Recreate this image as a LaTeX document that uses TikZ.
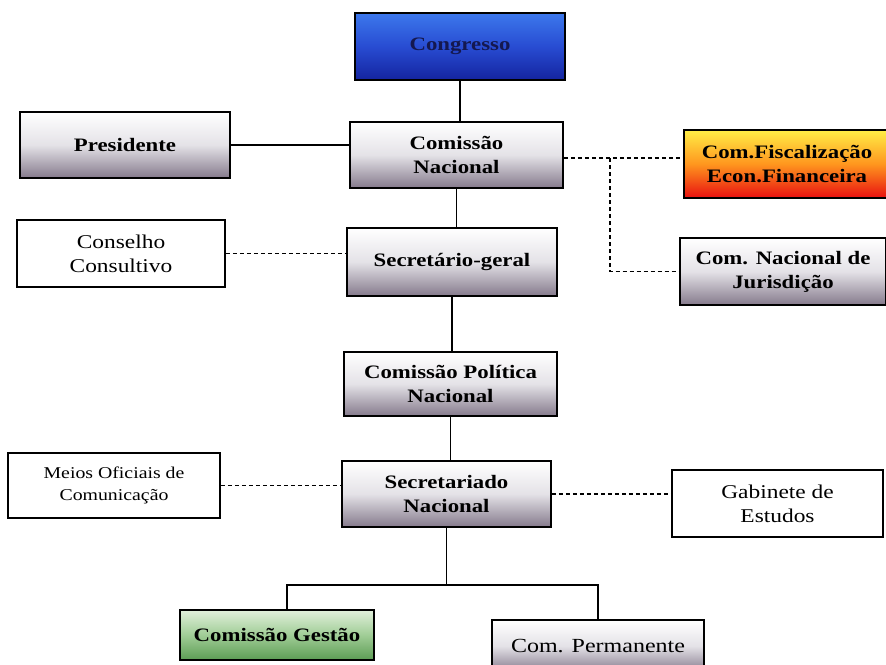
\documentclass[tikz,border=0pt]{standalone}
\usepackage{fontspec}
\setmainfont{Liberation Serif}[FakeStretch=1.2]
\definecolor{boxgray}{HTML}{857A8C}
\definecolor{boxgraymid}{HTML}{E4E2E7}
\definecolor{bluetop}{HTML}{3C78EC}
\definecolor{bluebot}{HTML}{1424A0}
\definecolor{navytext}{HTML}{141850}
\definecolor{greentop}{HTML}{E2F0DC}
\definecolor{greenbot}{HTML}{5C9C54}
\tikzset{
  base/.style={draw=black, line width=1.5pt, align=center, inner sep=2pt},
  graybox/.style={base, top color=white, bottom color=boxgray, middle color=boxgraymid,
    font=\fontsize{19}{24}\selectfont\bfseries},
  whitebox/.style={base, fill=white, font=\fontsize{19.5}{24}\selectfont},
  bluebox/.style={base, top color=bluetop, bottom color=bluebot, middle color={rgb,255:red,40;green,76;blue,210},
    font=\fontsize{19}{24}\selectfont\bfseries, text=navytext},
  firebox/.style={base, top color={rgb,255:red,255;green,238;blue,70}, bottom color={rgb,255:red,232;green,16;blue,16},
    middle color={rgb,255:red,255;green,150;blue,30}, font=\fontsize{19}{24}\selectfont\bfseries},
  greenbox/.style={base, top color=greentop, bottom color=greenbot, middle color={rgb,255:red,160;green,205;blue,150},
    font=\fontsize{19}{24}\selectfont\bfseries},
  solidlink/.style={draw=black, line width=1.3pt},
  dashlink/.style={draw=black, line width=1.3pt, dash pattern=on 4pt off 3pt},
}
\begin{document}
\begin{tikzpicture}[x=1pt, y=-1pt]
\useasboundingbox (0,0) rectangle (886,664);
\fill[white] (0,0) rectangle (886,664);

\node[bluebox, minimum width=210pt, minimum height=67pt] (cong) at (460,46.5) {Congresso};
\node[graybox, minimum width=210pt, minimum height=66pt] (pres) at (125,145) {Presidente};
\node[graybox, minimum width=213pt, minimum height=66pt] (cn) at (456.5,155) {Comissão\\Nacional};
\node[firebox, minimum width=206pt, minimum height=68pt] (fisc) at (787,164) {Com.Fiscalização\\Econ.Financeira};
\node[whitebox, minimum width=208pt, minimum height=67pt] (cons) at (121,253.5) {Conselho\\Consultivo};
\node[graybox, minimum width=210pt, minimum height=68pt] (sg) at (452,262) {Secretário-geral};
\node[graybox, minimum width=206pt, minimum height=67pt] (jur) at (783,271.5) {Com. Nacional de\\Jurisdição};
\node[graybox, minimum width=213pt, minimum height=64pt] (cpn) at (450.5,384) {Comissão Política\\Nacional};
\node[whitebox, minimum width=212pt, minimum height=65pt, font=\fontsize{16.5}{22}\selectfont] (meios) at (114,485.5) {Meios Oficiais de\\Comunicação};
\node[graybox, minimum width=209pt, minimum height=66pt] (sn) at (446.5,494) {Secretariado\\Nacional};
\node[whitebox, minimum width=211pt, minimum height=67pt] (gab) at (777.5,503.5) {Gabinete de\\Estudos};
\node[greenbox, minimum width=194pt, minimum height=50pt] (gest) at (277,635) {Comissão Gestão};
\node[graybox, minimum width=212pt, minimum height=52pt, font=\fontsize{20}{24}\selectfont] (perm) at (598,646) {Com. Permanente};

% solid hierarchy
\draw[solidlink] (cong.south) -- (cong.south |- cn.north);
\draw[solidlink] (pres.east) -- (pres.east -| cn.west);
\draw[solidlink] (cn.south) -- (cn.south |- sg.north);
\draw[solidlink] (sg.south) -- (sg.south |- cpn.north);
\draw[solidlink] (cpn.south) -- (cpn.south |- sn.north);
\coordinate (hub) at (446.5,585);
\coordinate (gtop) at (287,610);
\draw[solidlink] (sn.south) -- (hub);
\draw[solidlink] (gtop) |- (hub) -| (perm.north);

% dashed links
\coordinate (br) at (610,158);
\draw[dashlink] (cn.east |- br) -- (br -| fisc.west);
\draw[dashlink] (br) |- (jur.west);
\draw[dashlink] (cons.east) -- (cons.east -| sg.west);
\draw[dashlink] (meios.east) -- (meios.east -| sn.west);
\draw[dashlink] (sn.east) -- (sn.east -| gab.west);
\end{tikzpicture}
\end{document}
